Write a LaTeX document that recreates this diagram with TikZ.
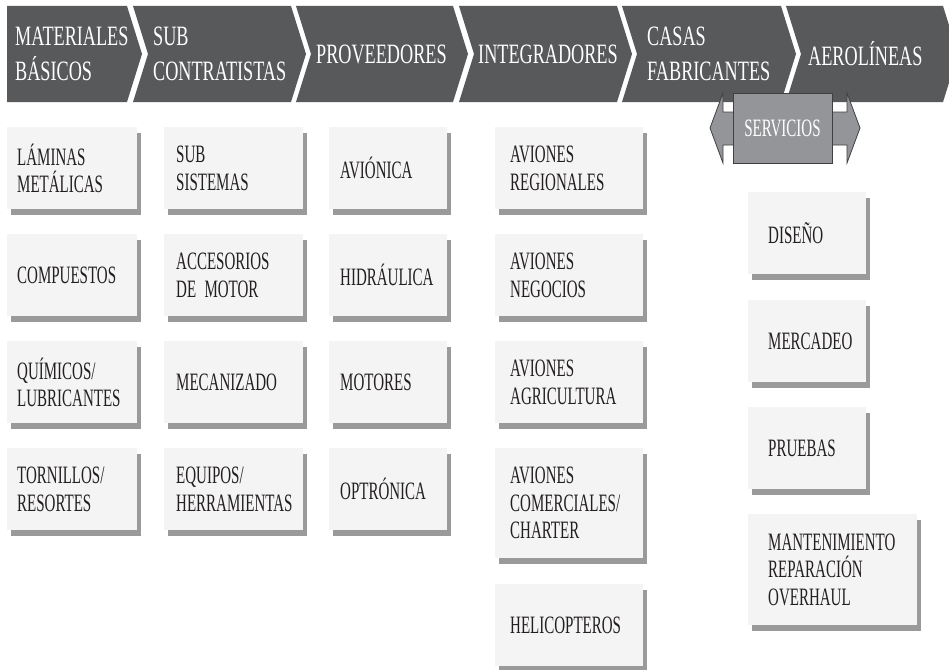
\documentclass[tikz,border=0pt]{standalone}
\usepackage{fontspec}
\setmainfont{Liberation Serif}[FakeStretch=0.6]
\newfontfamily\titulofamilia{Liberation Serif}[FakeStretch=0.65]
\usetikzlibrary{shadows}
\definecolor{etapagris}{HTML}{58595B}
\definecolor{cajagris}{HTML}{F4F4F4}
\definecolor{sombragris}{HTML}{9A9A9B}
\definecolor{servgris}{HTML}{939598}
\definecolor{bordegris}{HTML}{404041}
\definecolor{textogris}{HTML}{231F20}
\newcommand{\fuentetitulo}{\titulofamilia\fontsize{28}{35}\selectfont\fontdimen2\font=4pt}
\newcommand{\fuentecaja}{\fontsize{25}{27.5}\selectfont\fontdimen2\font=3.5pt}
\begin{document}
\begin{tikzpicture}[
				x=1pt, y=-1pt,
				etapa/.style={fill=etapagris, draw=none},
				titulo/.style={anchor=west, align=left, inner sep=0, text=white, font=\fuentetitulo},
				caja/.style={anchor=north west, align=left, fill=cajagris, text=textogris, font=\fuentecaja,
					minimum height=82pt, inner ysep=0,
					drop shadow={shadow xshift=4pt, shadow yshift=-6pt, fill=sombragris, opacity=1}},
				colmat/.style={caja, inner xsep=10pt, text width=110pt},
				colsub/.style={caja, inner xsep=12pt, text width=115pt},
				colprov/.style={caja, inner xsep=11pt, text width=96pt},
				colint/.style={caja, inner xsep=15pt, text width=118pt},
				colserv/.style={caja, inner xsep=20pt, text width=78pt},
				servflecha/.style={fill=servgris, draw=bordegris, line width=0.8pt},
			]
			\useasboundingbox (0,0) rectangle (949,669);
			% cadena de valor
			\fill[etapa] (7,6) -- (127,6) -- (142,54) -- (127,102) -- (7,102) -- cycle;
			\fill[etapa] (133,6) -- (291,6) -- (306,54) -- (291,102) -- (133,102) -- (148,54) -- cycle;
			\fill[etapa] (296,6) -- (453,6) -- (468,54) -- (453,102) -- (296,102) -- (311,54) -- cycle;
			\fill[etapa] (459,6) -- (617,6) -- (632,54) -- (617,102) -- (459,102) -- (474,54) -- cycle;
			\fill[etapa] (622,6) -- (781,6) -- (796,54) -- (781,102) -- (622,102) -- (637,54) -- cycle;
			\fill[etapa] (786,6) -- (943,6) -- (958,54) -- (943,102) -- (786,102) -- (801,54) -- cycle;
			\node[titulo] (materiales) at (15,54) {MATERIALES\\BÁSICOS};
			\node[titulo] (subcontratistas) at (153,54) {SUB\\CONTRATISTAS};
			\node[titulo] (proveedores) at (316,54) {PROVEEDORES};
			\node[titulo] (integradores) at (478,54) {INTEGRADORES};
			\node[titulo] (casas) at (647,54) {CASAS\\FABRICANTES};
			\node[titulo] (aerolineas) at (808,54) {AEROLÍNEAS};
			% servicios
			\draw[servflecha] (710,128) -- (723,93) -- (723,112) -- (847,112) -- (847,93) -- (860,128)
				-- (847,163) -- (847,145) -- (723,145) -- (723,163) -- cycle;
			\node[servflecha, minimum width=99pt, minimum height=70pt, text=white, font=\fuentecaja] (servicios) at (782.5,128) {SERVICIOS};
			% materiales basicos
			\node[colmat] (laminas) at (7,127) {LÁMINAS\\METÁLICAS};
			\node[colmat] (compuestos) at (7,234) {COMPUESTOS};
			\node[colmat] (quimicos) at (7,341) {QUÍMICOS/\\LUBRICANTES};
			\node[colmat] (tornillos) at (7,448) {TORNILLOS/\\RESORTES};
			% sub contratistas
			\node[colsub] (subsistemas) at (164,127) {SUB\\SISTEMAS};
			\node[colsub] (accesorios) at (164,234) {ACCESORIOS\\DE MOTOR};
			\node[colsub] (mecanizado) at (164,341) {MECANIZADO};
			\node[colsub] (equipos) at (164,448) {EQUIPOS/\\HERRAMIENTAS};
			% proveedores
			\node[colprov] (avionica) at (329,127) {AVIÓNICA};
			\node[colprov] (hidraulica) at (329,234) {HIDRÁULICA};
			\node[colprov] (motores) at (329,341) {MOTORES};
			\node[colprov] (optronica) at (329,448) {OPTRÓNICA};
			% integradores
			\node[colint] (regionales) at (495,127) {AVIONES\\REGIONALES};
			\node[colint] (negocios) at (495,234) {AVIONES\\NEGOCIOS};
			\node[colint] (agricultura) at (495,341) {AVIONES\\AGRICULTURA};
			\node[colint, minimum height=110pt] (comerciales) at (495,448) {AVIONES\\COMERCIALES/\\CHARTER};
			\node[colint] (helicopteros) at (495,584) {HELICOPTEROS};
			% servicios
			\node[colserv] (diseno) at (748,192) {DISEÑO};
			\node[colserv] (mercadeo) at (748,300) {MERCADEO};
			\node[colserv] (pruebas) at (748,407) {PRUEBAS};
			\node[colserv, text width=129pt, minimum height=111pt] (mantenimiento) at (748,514) {MANTENIMIENTO\\REPARACIÓN\\OVERHAUL};
			\end{tikzpicture}
\end{document}
